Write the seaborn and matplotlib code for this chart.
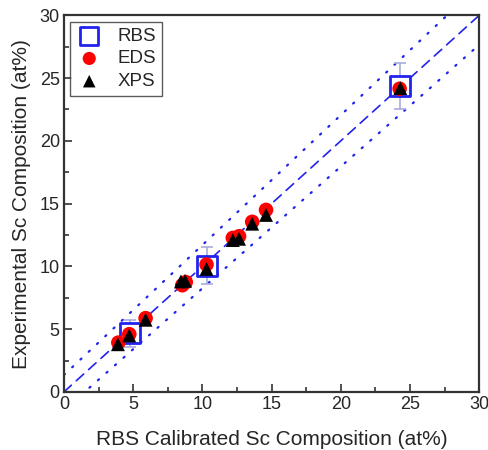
import numpy as np
import pandas as pd
import seaborn as sns
from matplotlib import pyplot as plt
from matplotlib.ticker import MultipleLocator

# values
rbs_x = [4.75, 10.33, 24.3]
rbs_y = [4.67, 10.07, 24.37]
rbs_err = [1.1, 1.45, 1.85]

eds_x = [3.93, 4.72, 5.9, 8.55, 8.8, 10.3, 12.2, 12.65, 13.6, 14.6, 24.25]
eds_y = [3.93, 4.6, 5.88, 8.5, 8.75, 10.15, 12.27, 12.4, 13.55, 14.5, 24.15]

xps_x = [3.9, 4.72, 5.9, 8.45, 8.75, 10.3, 12.2, 12.65, 13.6, 14.6, 24.3]
xps_y = [3.8, 4.5, 5.75, 8.8, 8.85, 9.8, 12.1, 12.2, 13.4, 14.1, 24.2]

line_x = [0, 30]
upper_slope, upper_icpt = 1.035, 1.35
lower_slope, lower_icpt = 0.97, -1.45

df_rbs = pd.DataFrame({'x': rbs_x, 'y': rbs_y, 'err': rbs_err})
df_eds = pd.DataFrame({'x': eds_x, 'y': eds_y})
df_xps = pd.DataFrame({'x': xps_x, 'y': xps_y})
lx = np.array(line_x, dtype=float)
df_lines = pd.DataFrame({'x': lx, 'mid': lx,
                         'upper': upper_slope * lx + upper_icpt,
                         'lower': lower_slope * lx + lower_icpt})

sns.set_style("white")
plt.rcParams['font.family'] = ['Liberation Sans', 'DejaVu Sans']

fig = plt.figure(figsize=(4.88, 4.5), dpi=100)
ax = fig.add_axes([0.131, 0.129, 0.851, 0.837])

blue = '#2222ee'
sns.lineplot(data=df_lines, x='x', y='mid', ax=ax, color=blue, lw=1.2, dashes=(6, 4), zorder=1)
sns.lineplot(data=df_lines, x='x', y='upper', ax=ax, color=blue, lw=1.6, dashes=(0.6, 4.5), zorder=1)
sns.lineplot(data=df_lines, x='x', y='lower', ax=ax, color=blue, lw=1.6, dashes=(0.6, 4.5), zorder=1)
for l in ax.lines:
    l.set_dash_capstyle('round')

ax.errorbar(df_rbs['x'], df_rbs['y'], yerr=df_rbs['err'], fmt='none', ecolor='#a8acdc',
            elinewidth=1.2, capsize=4, capthick=1.2, zorder=2)
sns.scatterplot(data=df_rbs, x='x', y='y', ax=ax, marker='s', s=200, facecolor='white',
                edgecolor=blue, linewidth=2, label='RBS', zorder=3)
sns.scatterplot(data=df_eds, x='x', y='y', ax=ax, marker='o', s=110, color='#ff0000',
                edgecolor='none', label='EDS', zorder=4)
sns.scatterplot(data=df_xps, x='x', y='y', ax=ax, marker='^', s=100, color='black',
                edgecolor='none', label='XPS', zorder=5)

ax.set_xlim(0, 30)
ax.set_ylim(0, 30)
ax.xaxis.set_major_locator(MultipleLocator(5))
ax.yaxis.set_major_locator(MultipleLocator(5))
ax.xaxis.set_minor_locator(MultipleLocator(2.5))
ax.yaxis.set_minor_locator(MultipleLocator(2.5))
ax.tick_params(which='both', direction='in', bottom=True, left=True, top=False, right=False,
               labelsize=13, color='#333333')
ax.tick_params(which='major', length=6, width=1.2, pad=3)
ax.tick_params(which='minor', length=3.5, width=1.2)
for s in ax.spines.values():
    s.set_color('#333333')
    s.set_linewidth(1.6)

ax.set_xlabel('RBS Calibrated Sc Composition (at%)', fontsize=15, labelpad=12)
ax.set_ylabel('Experimental Sc Composition (at%)', fontsize=15, labelpad=6)

leg = ax.legend(loc='upper left', fontsize=13.5, frameon=True, fancybox=False, edgecolor='#333333',
                borderaxespad=0.35, handlelength=1.4, handletextpad=0.8, labelspacing=0.3,
                borderpad=0.3, markerscale=0.9)
leg.get_frame().set_linewidth(1.0)

fig.savefig('out.png', dpi=100)
